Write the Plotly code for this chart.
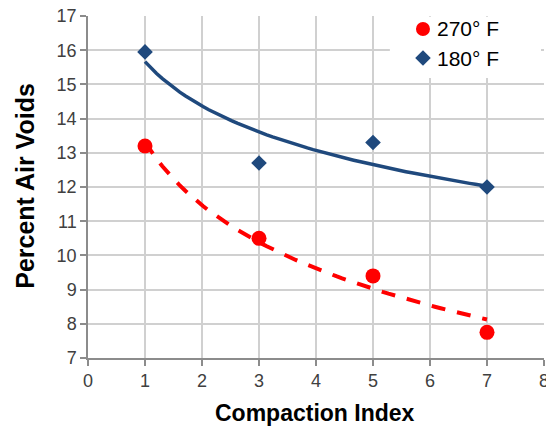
import numpy as np
import plotly.graph_objects as go

# Data
x_vals = [1, 3, 5, 7]
air_voids_270 = [13.2, 10.5, 9.4, 7.75]
air_voids_180 = [15.95, 12.7, 13.3, 12.0]
series_names = ["270° F", "180° F"]
x_ticks = [0, 1, 2, 3, 4, 5, 6, 7, 8]
y_ticks = [7, 8, 9, 10, 11, 12, 13, 14, 15, 16, 17]
x_title = "Compaction Index"
y_title = "Percent Air Voids"

RED = "#FF0000"
BLUE = "#1F497D"
FONT = "Liberation Sans, Arial, sans-serif"


def log_trend(xs, ys, n=60):
    a, b = np.polyfit(np.log(xs), ys, 1)
    xx = np.linspace(min(xs), max(xs), n)
    return xx, a * np.log(xx) + b


fig = go.Figure()

tx, ty = log_trend(x_vals, air_voids_180)
fig.add_trace(go.Scatter(x=tx, y=ty, mode="lines", line=dict(color=BLUE, width=3.5),
                         showlegend=False, hoverinfo="skip"))
tx, ty = log_trend(x_vals, air_voids_270)
fig.add_trace(go.Scatter(x=tx, y=ty, mode="lines",
                         line=dict(color=RED, width=4, dash="14px,12px"),
                         showlegend=False, hoverinfo="skip"))

fig.add_trace(go.Scatter(x=x_vals, y=air_voids_270, mode="markers", name=series_names[0],
                         marker=dict(symbol="circle", size=15, color=RED)))
fig.add_trace(go.Scatter(x=x_vals, y=air_voids_180, mode="markers", name=series_names[1],
                         marker=dict(symbol="diamond", size=12, color=BLUE)))

axis_common = dict(
    showgrid=True, gridcolor="#D0D0D0", gridwidth=1.5,
    showline=True, linecolor="#8C8C8C", linewidth=1.5,
    ticks="outside", ticklen=6, tickcolor="#8C8C8C", tickwidth=1.5,
    zeroline=False, automargin=False, ticklabeloverflow="allow",
    tickfont=dict(family=FONT, size=18, color="#404040"),
)

# Legend drawn as shapes + annotations (paper coordinates)
lx, ly1, ly2 = 0.7346, 0.962, 0.877
cdx, cdy = 0.01535, 0.02047
ddx, ddy = 0.0171, 0.0228
shapes = [
    dict(type="rect", xref="paper", yref="paper", x0=0.662, x1=0.9934, y0=0.8187, y1=0.998,
         fillcolor="white", line=dict(width=0), layer="above"),
    dict(type="circle", xref="paper", yref="paper", x0=lx - cdx, x1=lx + cdx,
         y0=ly1 - cdy, y1=ly1 + cdy, fillcolor=RED, line=dict(width=0), layer="above"),
    dict(type="path", xref="paper", yref="paper",
         path=f"M {lx - ddx},{ly2} L {lx},{ly2 + ddy} L {lx + ddx},{ly2} L {lx},{ly2 - ddy} Z",
         fillcolor=BLUE, line=dict(width=0), layer="above"),
]

fig.update_layout(
    width=546, height=426,
    margin=dict(l=80, r=10, t=8, b=76),
    paper_bgcolor="white", plot_bgcolor="white",
    font=dict(family=FONT),
    xaxis=dict(range=[0, 8], tickvals=x_ticks, **axis_common),
    yaxis=dict(range=[7, 17], tickvals=y_ticks, **axis_common),
    showlegend=False,
    shapes=shapes,
    annotations=[
        dict(text=series_names[0], xref="paper", yref="paper", x=0.761, y=ly1,
             xanchor="left", yanchor="middle", showarrow=False,
             font=dict(size=21, color="black", family=FONT)),
        dict(text=series_names[1], xref="paper", yref="paper", x=0.761, y=ly2,
             xanchor="left", yanchor="middle", showarrow=False,
             font=dict(size=21, color="black", family=FONT)),
        dict(text="<b>" + x_title + "</b>", xref="paper", yref="paper",
             x=0.498, y=-0.161, xanchor="center", yanchor="middle", showarrow=False,
             font=dict(size=23, color="black", family=FONT)),
        dict(text="<b>" + y_title + "</b>", xref="paper", yref="paper",
             x=-0.140, y=0.504, xanchor="center", yanchor="middle", showarrow=False,
             textangle=-90, font=dict(size=25, color="black", family=FONT)),
    ],
)

fig.write_html("out.html")
